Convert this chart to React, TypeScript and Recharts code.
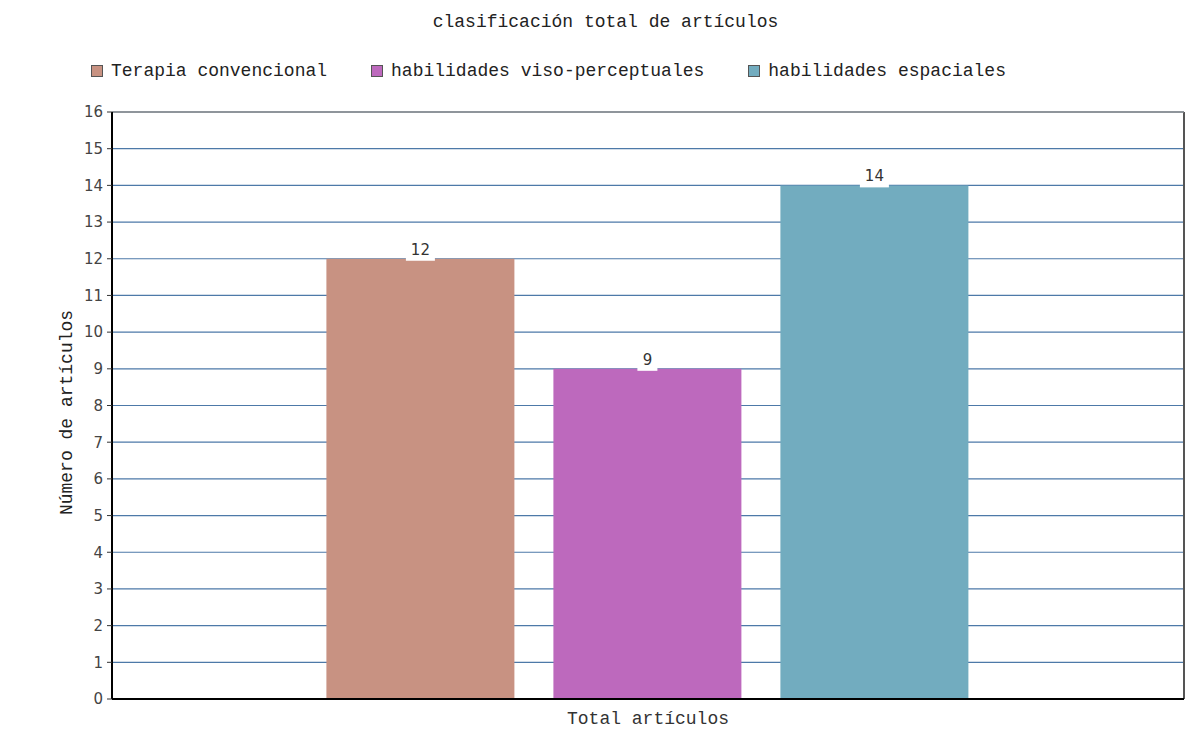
import React from 'react';
import {
  BarChart,
  Bar,
  XAxis,
  YAxis,
  CartesianGrid,
  Legend,
  LabelList,
  ReferenceLine,
} from 'recharts';

const categories = ['Total artículos'];
const terapiaValues = [12];
const visoValues = [9];
const espacialesValues = [14];
const yTicks = [0, 1, 2, 3, 4, 5, 6, 7, 8, 9, 10, 11, 12, 13, 14, 15, 16];
const seriesKeys = ['terapia', 'viso', 'espaciales'];
const seriesNames = ['Terapia convencional', 'habilidades viso-perceptuales', 'habilidades espaciales'];
const seriesColors = ['#C89282', '#BD69BD', '#72ACBF'];
const titleText = 'clasificación total de artículos';
const yLabelText = 'Número de artículos';

const data = categories.map((name, i) => ({
  name,
  terapia: terapiaValues[i],
  viso: visoValues[i],
  espaciales: espacialesValues[i],
}));

const MONO = '"Liberation Mono", "DejaVu Sans Mono", monospace';
const SANS = '"DejaVu Sans", Verdana, sans-serif';

const ValueLabel = (props: any) => {
  const { x, y, width, value } = props;
  const cx = Number(x) + Number(width) / 2;
  const top = Number(y);
  const w = String(value).length * 9 + 11;
  return (
    <g>
      <rect x={cx - w / 2} y={top - 18} width={w} height={20} fill="#ffffff" />
      <text x={cx} y={top - 4} textAnchor="middle" fontSize={15} fontFamily={SANS} fill="#333">
        {value}
      </text>
    </g>
  );
};

const LegendContent = () => (
  <div style={{ display: 'flex', alignItems: 'center', height: 20, fontFamily: MONO, fontSize: 18, color: '#222' }}>
    {seriesNames.map((n, i) => (
      <div key={n} style={{ display: 'flex', alignItems: 'center', marginRight: 44, whiteSpace: 'nowrap' }}>
        <span
          style={{
            display: 'inline-block',
            width: 10,
            height: 10,
            border: '1px solid #555',
            background: seriesColors[i],
            marginRight: 8,
          }}
        />
        <span>{n}</span>
      </div>
    ))}
  </div>
);

const YLabel = (props: any) => {
  const vb = props.viewBox || { x: 0, y: 0, width: 0, height: 0 };
  const cx = vb.x + 59;
  const cy = vb.y + vb.height / 2 + 7;
  return (
    <text
      x={cx}
      y={cy}
      transform={`rotate(-90 ${cx} ${cy})`}
      textAnchor="middle"
      dominantBaseline="central"
      fontFamily={MONO}
      fontSize={18}
      fill="#222"
    >
      {yLabelText}
    </text>
  );
};

const rightEdge = (p: any) => [p.offset.left + p.offset.width];

export default function App() {
  return (
    <div style={{ position: 'relative', width: 1187, height: 721, background: '#fff' }}>
      <div
        style={{
          position: 'absolute',
          top: 4,
          left: 4,
          width: 1187,
          height: 20,
          lineHeight: '20px',
          textAlign: 'center',
          fontFamily: MONO,
          fontSize: 18,
          color: '#222',
          whiteSpace: 'nowrap',
        }}
      >
        {titleText}
      </div>
      <BarChart
        width={1187}
        height={721}
        data={data}
        margin={{ top: 84, right: 11, bottom: 0, left: 0 }}
        barCategoryGap="20%"
        barGap={39}
      >
        <Legend
          verticalAlign="top"
          align="left"
          content={<LegendContent />}
          wrapperStyle={{ top: 53, left: 83, width: 'auto', height: 20 }}
        />
        <CartesianGrid yAxisId="left" vertical={false} stroke="#4d79a8" strokeWidth={1.2} />
        <CartesianGrid
          yAxisId="left"
          horizontal={false}
          vertical={true}
          verticalCoordinatesGenerator={rightEdge}
          stroke="#555"
          strokeWidth={2}
        />
        <XAxis
          dataKey="name"
          height={30}
          axisLine={{ stroke: '#000', strokeWidth: 2 }}
          tickLine={false}
          tickMargin={6}
          tick={{ fill: '#333', fontSize: 18, fontFamily: MONO }}
        />
        <YAxis
          yAxisId="left"
          width={104}
          domain={[0, 16]}
          ticks={yTicks}
          interval={0}
          allowDecimals={false}
          tickSize={5}
          tickMargin={4}
          axisLine={{ stroke: '#000', strokeWidth: 2 }}
          tickLine={{ stroke: '#333' }}
          tick={{ fill: '#444', fontSize: 15, fontFamily: SANS }}
          label={YLabel}
        />
        <ReferenceLine yAxisId="left" y={16} stroke="#888" strokeWidth={1.5} />
        {seriesKeys.map((k, i) => (
          <Bar
            key={k}
            yAxisId="left"
            dataKey={k}
            name={seriesNames[i]}
            fill={seriesColors[i]}
            isAnimationActive={false}
          >
            <LabelList dataKey={k} content={<ValueLabel />} />
          </Bar>
        ))}
      </BarChart>
    </div>
  );
}
